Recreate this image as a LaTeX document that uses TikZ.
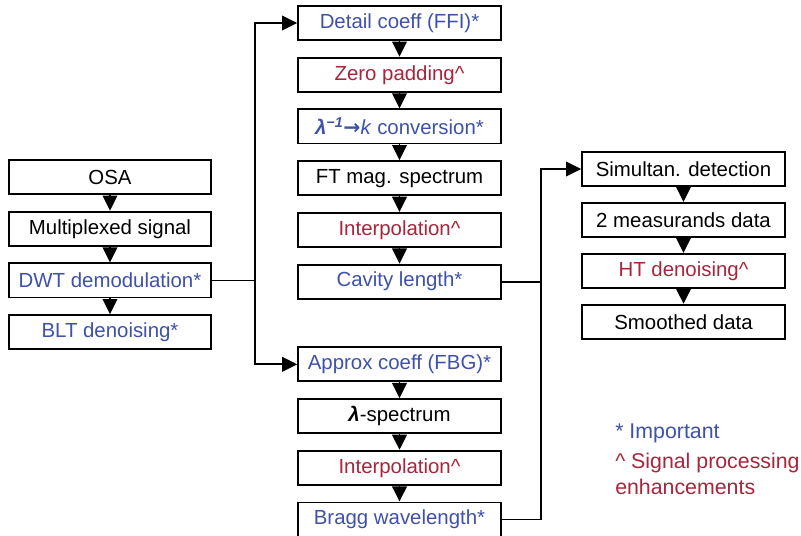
\documentclass[tikz,border=0pt]{standalone}
\usepackage{fontspec}
\setmainfont{Liberation Sans}
\newfontfamily\arrowfont{DejaVu Sans}
\usepackage{xcolor}
\usepackage{tikz}
\usetikzlibrary{arrows.meta, positioning, calc}
\definecolor{KeyBlue}{HTML}{3F51A8}
\definecolor{EnhRed}{HTML}{A8253B}

\begin{document}
\begin{tikzpicture}[x=0.75pt, y=-0.75pt, node distance=11.8pt, every node/.style={font=\fontsize{15.3}{19.5}\selectfont}]
    \tikzstyle{box} = [rectangle, draw=black, line width=1.4pt, fill=white, minimum width=152pt, minimum height=25.6pt, inner sep=1pt, align=center]
    \tikzstyle{keybox} = [box, text=KeyBlue]
    \tikzstyle{enhbox} = [box, text=EnhRed]
    \tikzstyle{line} = [draw, line width=1.4pt, -{Triangle[length=11.4pt, width=11pt]}]
    \tikzstyle{link} = [draw, line width=1.4pt]
    \tikzstyle{note} = [inner sep=0pt, align=left, anchor=west, font=\fontsize{16}{19.5}\selectfont]

    \useasboundingbox (0,0) rectangle (801,536);

    % left column
    \node [box] (osa) at (110,177) {OSA};
    \node [box, below=of osa] (mux) {Multiplexed signal};
    \node [keybox, below=of mux] (dwt) {DWT demodulation*};
    \node [keybox, below=of dwt] (blt) {BLT denoising*};

    % middle column
    \node [keybox] (detail) at (399.5,23) {Detail coeff (FFI)*};
    \node [enhbox, below=of detail] (zeropad) {Zero padding\textasciicircum};
    \node [keybox, below=of zeropad] (conv) {{\bfseries\itshape λ}\textsuperscript{\bfseries\itshape −1}{\arrowfont\bfseries →}\textit{k} conversion*};
    \node [box, below=of conv] (ftmag) {FT mag. spectrum};
    \node [enhbox, below=of ftmag] (interpA) {Interpolation\textasciicircum};
    \node [keybox, below=of interpA] (cavity) {Cavity length*};
    \node [keybox, below=35pt of cavity] (approx) {Approx coeff (FBG)*};
    \node [box, below=of approx] (lspec) {{\bfseries\itshape λ}-spectrum};
    \node [enhbox, below=of lspec] (interpB) {Interpolation\textasciicircum};
    \node [keybox, below=of interpB] (bragg) {Bragg wavelength*};

    % right column
    \node [box] (detect) at (683.5,169) {Simultan. detection};
    \node [box, below=11.2pt of detect] (meas) {2 measurands data};
    \node [enhbox, below=11.2pt of meas] (htden) {HT denoising\textasciicircum};
    \node [box, below=11.2pt of htden] (smooth) {Smoothed data};

    % legend
    \node [note, text=KeyBlue] (important) at (615,433) {* Important};
    \node [note, text=EnhRed] (enhance) at (615,474) {\textasciicircum{} Signal processing\\enhancements};

    \foreach \a/\b in {osa/mux, mux/dwt, dwt/blt, detail/zeropad, zeropad/conv, conv/ftmag, ftmag/interpA, interpA/cavity, approx/lspec, lspec/interpB, interpB/bragg, detect/meas, meas/htden, htden/smooth}
        \path [line] (\a) -- (\b);

    \path (detail.west) ++(-42,0) coordinate (busL);
    \path (detect.west) ++(-40,0) coordinate (busR);
    \path [line] (dwt.east) -| (busL) -- (detail.west);
    \path [line] (dwt.east -| busL) |- (approx.west);
    \path [line] (cavity.east) -| (busR) -- (detect.west);
    \path [link] (bragg.east) -| (busR);
\end{tikzpicture}
\end{document}
